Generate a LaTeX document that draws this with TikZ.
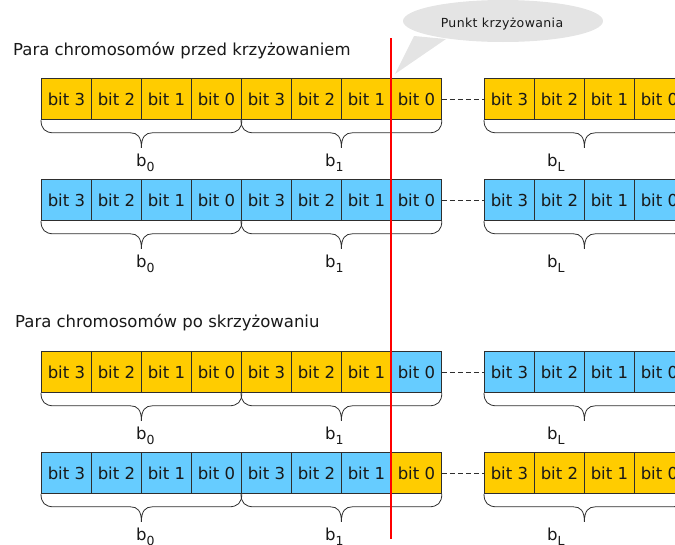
\documentclass[tikz,border=0pt]{standalone}
\usepackage{fontspec}
\setmainfont{DejaVu Sans}
\usetikzlibrary{shapes.geometric,calc}

\definecolor{geneY}{HTML}{FFCC00}
\definecolor{geneB}{HTML}{66CCFF}
\definecolor{edgegray}{HTML}{2E2E2E}
\definecolor{bubblegray}{HTML}{E4E4E4}
\definecolor{cutred}{HTML}{FF0000}

% curly brace under a group of four cells, drawn between two anchors
\newcommand\genebrace[2]{%
  \draw[bracestyle] let \p1=(#1), \p2=(#2), \n1={0.5*(\x1+\x2)} in
    (\x1,\y1) .. controls (\x1,\y1-9pt) and (\x1+4pt,\y1-13pt) .. (\x1+13pt,\y1-13pt)
    -- (\n1-11pt,\y1-13pt)
    .. controls (\n1-4pt,\y1-13pt) and (\n1,\y1-17pt) .. (\n1,\y1-28pt)
    .. controls (\n1,\y1-17pt) and (\n1+4pt,\y1-13pt) .. (\n1+11pt,\y1-13pt)
    -- (\x2-13pt,\y1-13pt)
    .. controls (\x2-4pt,\y1-13pt) and (\x2,\y1-9pt) .. (\x2,\y2);}

\newcommand\blabel[1]{b\raisebox{-5pt}{\fontsize{12.5}{12.5}\selectfont #1}}

\begin{document}
\begin{tikzpicture}[x=1pt,y=-1pt,
  cell/.style={draw=edgegray, line width=0.8pt, minimum width=50pt,
    minimum height=41pt, inner sep=0pt, anchor=north west,
    font=\fontsize{16.5}{16.5}\selectfont, text=black!90},
  bracestyle/.style={draw=edgegray, line width=0.8pt},
  gap/.style={draw=edgegray, line width=0.8pt, dash pattern=on 5pt off 3pt},
  title/.style={anchor=base west, inner sep=0pt,
    font=\fontsize{16.5}{16.5}\selectfont, text=black!90},
  sublabel/.style={anchor=base west, inner sep=0pt,
    font=\fontsize{16.5}{16.5}\selectfont, text=black!90}]
\useasboundingbox (0,0) rectangle (675,544);

% callout bubble naming the crossover point
\fill[bubblegray] (414,36) -- (395,74) -- (446,39) -- cycle;
\node[ellipse, fill=bubblegray, minimum width=200pt, minimum height=42pt,
  inner sep=0pt] (bubble) at (503,21) {};
\node[anchor=base, inner sep=0pt, text=black!90,
  font=\fontsize{12.5}{12.5}\selectfont\addfontfeatures{LetterSpace=3}]
  (bubbletext) at (502,27) {Punkt krzyżowania};

% section titles
\node[title] (titleA) at (13,55) {Para chromosomów przed krzyżowaniem};
\node[title] (titleB) at (15,327) {Para chromosomów po skrzyżowaniu};

% four chromosomes: row / top edge / colour of cells 1-7 / colour of the tail
\foreach \r/\top/\ca/\cb in {1/78/geneY/geneY, 2/179/geneB/geneB,
                             3/351/geneY/geneB, 4/452/geneB/geneY}{
  \foreach \k in {1,...,8}{
    \pgfmathtruncatemacro\bitn{3-mod(\k-1,4)}
    \ifnum\k<8 \def\cc{\ca}\else \def\cc{\cb}\fi
    \node[cell, fill=\cc] (c\r-\k) at ({41+50*(\k-1)},\top) {bit \bitn};
  }
  \foreach \k in {1,...,4}{
    \pgfmathtruncatemacro\bitn{3-mod(\k-1,4)}
    \node[cell, fill=\cb] (d\r-\k) at ({484+50*(\k-1)},\top) {bit \bitn};
  }
  \draw[gap] (c\r-8.east) -- (d\r-1.east -| d\r-1.west);
  \genebrace{c\r-1.south west}{c\r-4.south east}
  \genebrace{c\r-5.south west}{c\r-8.south east}
  \genebrace{d\r-1.south west}{d\r-4.south east}
  \node[sublabel] (lab\r-0) at (136,\top+88) {\blabel{0}};
  \node[sublabel] (lab\r-1) at (325,\top+88) {\blabel{1}};
  \node[sublabel] (lab\r-L) at (547,\top+88) {\blabel{L}};
}

% crossover cut
\coordinate (cutTop) at (391,38);
\coordinate (cutBot) at (391,539);
\draw[cutred, line width=2pt] (cutTop) -- (cutBot);
\end{tikzpicture}
\end{document}
